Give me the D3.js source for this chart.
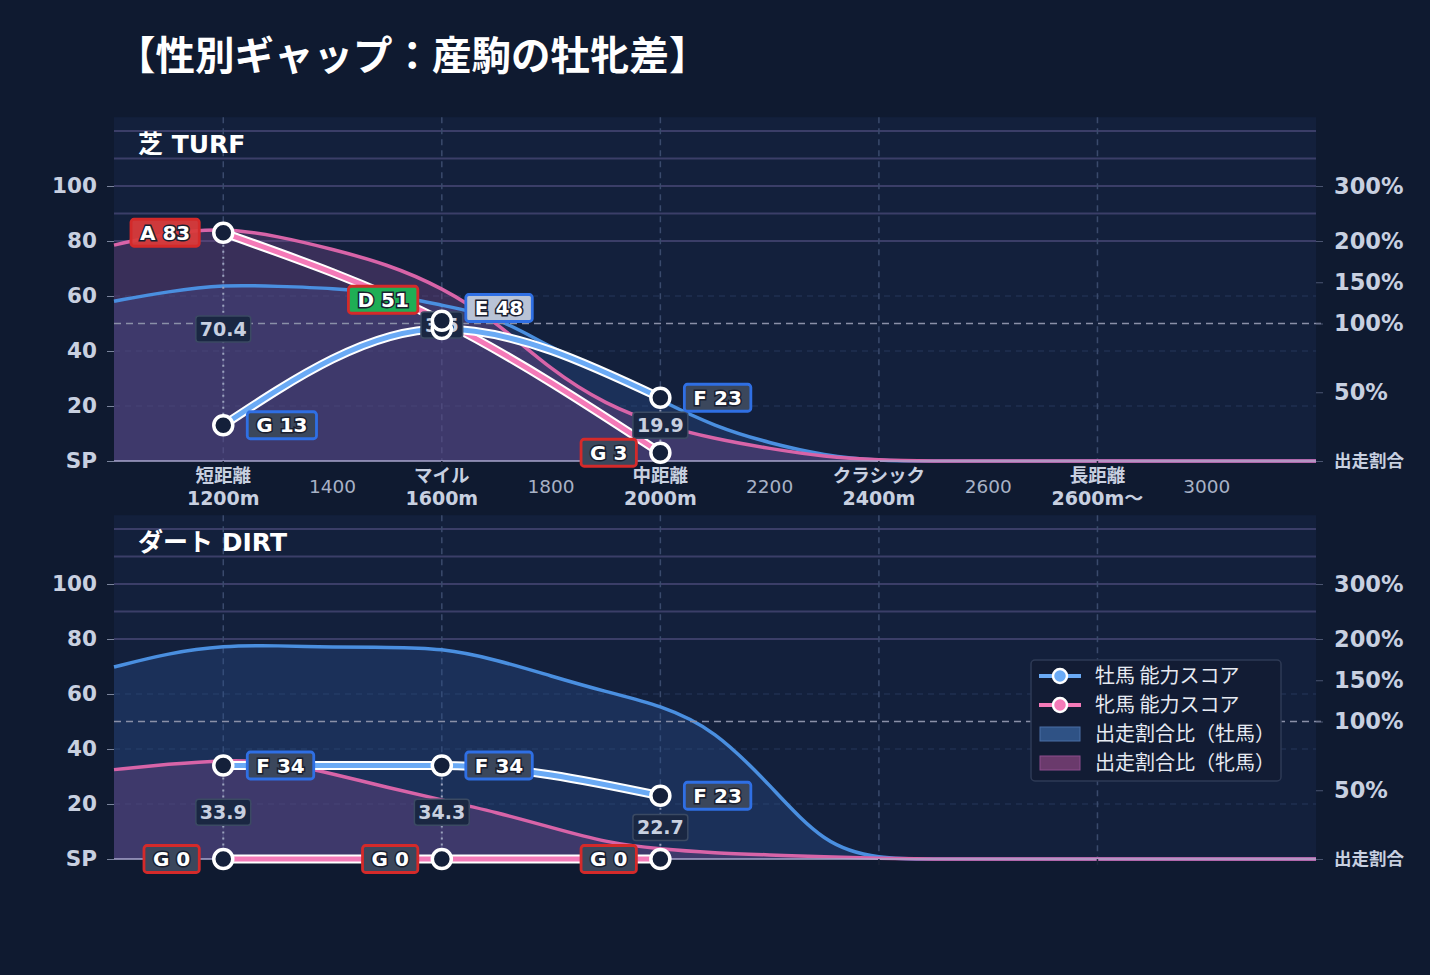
<!DOCTYPE html>
<html>
<head>
<meta charset="utf-8">
<script src="https://cdn.jsdelivr.net/npm/d3@7"></script>
<style>
  body { margin: 0; background: #0f1a30; }
  svg text { font-family: "DejaVu Sans", "Noto Sans CJK JP", sans-serif; }
</style>
</head>
<body>
<svg id="chart" width="1430" height="975"></svg>
<script>
// ---- data ----
// distance grid for the share curves (m)
const distances = [1000, 1100, 1200, 1300, 1400, 1500, 1600, 1700, 1800, 1900, 2000, 2100,
                   2200, 2300, 2400, 2500, 2600, 2700, 2800, 2900, 3000, 3100, 3200];
// 出走割合比 (%)
const turfMaleShare   = [127, 139, 147, 145, 143, 136, 122, 109, 82, 65, 44, 25,
                         13, 4, 0, 0, 0, 0, 0, 0, 0, 0, 0];
const turfFemaleShare = [195, 215, 224, 209, 190, 172, 144, 102, 66, 41, 26, 16,
                         9, 3, 0.5, 0, 0, 0, 0, 0, 0, 0, 0];
const dirtMaleShare   = [166, 183, 192, 192, 190, 190, 189, 175, 155, 136, 120, 94,
                         54, 10, 0, 0, 0, 0, 0, 0, 0, 0, 0];
const dirtFemaleShare = [65, 69, 72, 71, 62, 52, 43, 34, 23, 12, 7, 4.4,
                         3, 1.5, 0.5, 0, 0, 0, 0, 0, 0, 0, 0];

// 能力スコア at the three distance classes
const scoreDistances = [1200, 1600, 2000];
const turfMaleScore   = [13, 48, 23];
const turfMaleGrade   = ["G", "E", "F"];
const turfFemaleScore = [83, 51, 3];
const turfFemaleGrade = ["A", "D", "G"];
const turfGap         = ["70.4", "3.5", "19.9"];
const dirtMaleScore   = [34, 34, 23];
const dirtMaleGrade   = ["F", "F", "F"];
const dirtFemaleScore = [0, 0, 0];
const dirtFemaleGrade = ["G", "G", "G"];
const dirtGap         = ["33.9", "34.3", "22.7"];

// axes
const categoryTicks  = [1200, 1600, 2000, 2400, 2800];
const categoryNames  = ["短距離", "マイル", "中距離", "クラシック", "長距離"];
const categoryMeters = ["1200m", "1600m", "2000m", "2400m", "2600m〜"];
const numericTicks   = [1400, 1800, 2200, 2600, 3000];
const leftTicks      = [0, 20, 40, 60, 80, 100];
const leftLabels     = ["SP", "20", "40", "60", "80", "100"];
const rightTicks     = [0, 50, 100, 150, 200, 300];
const rightLabels    = ["出走割合", "50%", "100%", "150%", "200%", "300%"];
const purpleGrid     = [200, 250, 300, 350, 400];

// ---- styling ----
const C = {
  bg: "#0f1a30", panel: "#13203c", text: "#c8d0e0",
  male: "#4a8fe0", female: "#d864a8",
  maleScore: "#6aaaf5", femaleScore: "#f47ab8",
  maleBorder: "#2f6fe4", femaleBorder: "#d42a2a"
};
const gradeFill = { A: "#d93b3b", B: "#e07a2a", C: "#d4b02a", D: "#1fae55", E: "#b9c3d6", F: "#3b475c", G: "#3b475c" };

const svg = d3.select("#chart");
svg.append("rect").attr("width", 1430).attr("height", 975).attr("fill", C.bg);

// title
svg.append("text")
  .attr("x", 116).attr("y", 70)
  .style("font-family", "'Noto Sans CJK JP', sans-serif")
  .style("font-size", "39.5px").style("font-weight", "bold")
  .attr("fill", "#ffffff")
  .text("【性別ギャップ：産駒の牡牝差】");

const x = d3.scaleLinear().domain([1000, 3200]).range([114, 1316]);
// share ratio (%) -> left-axis units
const shareToValue = d3.scaleLinear().domain([0, 100, 200, 300, 400]).range([0, 50, 80, 100, 120]);

function drawPanel(cfg) {
  const base = cfg.base;
  const y = d3.scaleLinear().domain([0, 100]).range([base, base - 275]);
  const yS = v => y(shareToValue(v));
  const top = y(125);
  const g = svg.append("g");

  g.append("rect")
    .attr("x", x(1000)).attr("y", top)
    .attr("width", x(3200) - x(1000)).attr("height", base - top)
    .attr("fill", C.panel);

  // horizontal grid
  g.selectAll(".hgrid").data([20, 40, 60, 80, 100]).enter().append("line")
    .attr("x1", x(1000)).attr("x2", x(3200))
    .attr("y1", d => y(d)).attr("y2", d => y(d))
    .attr("stroke", "#27375a").attr("stroke-width", 1.2).attr("stroke-dasharray", "6,5");
  g.selectAll(".pgrid").data(purpleGrid).enter().append("line")
    .attr("x1", x(1000)).attr("x2", x(3200))
    .attr("y1", d => yS(d)).attr("y2", d => yS(d))
    .attr("stroke", "#3b3e68").attr("stroke-width", 2);

  // vertical grid at distance classes
  g.selectAll(".vgrid").data(categoryTicks).enter().append("line")
    .attr("x1", d => x(d)).attr("x2", d => x(d))
    .attr("y1", top).attr("y2", base)
    .attr("stroke", "#3a4a6c").attr("stroke-width", 1.5).attr("stroke-dasharray", "6,5");

  // share areas
  const shareData = s => distances.map((d, i) => [d, s[i]]);
  const area = d3.area().x(d => x(d[0])).y0(base).y1(d => yS(d[1])).curve(d3.curveBasis);
  const line = d3.line().x(d => x(d[0])).y(d => yS(d[1])).curve(d3.curveBasis);

  g.append("path").datum(shareData(cfg.maleShare)).attr("d", area)
    .attr("fill", "#2a5090").attr("fill-opacity", 0.35);
  g.append("path").datum(shareData(cfg.femaleShare)).attr("d", area)
    .attr("fill", "#7a4a8a").attr("fill-opacity", 0.38);
  g.append("path").datum(shareData(cfg.maleShare)).attr("d", line)
    .attr("fill", "none").attr("stroke", C.male).attr("stroke-width", 3.5);
  g.append("path").datum(shareData(cfg.femaleShare)).attr("d", line)
    .attr("fill", "none").attr("stroke", C.female).attr("stroke-width", 3.5);

  // 100% reference
  g.append("line")
    .attr("x1", x(1000)).attr("x2", 1323)
    .attr("y1", yS(100)).attr("y2", yS(100))
    .attr("stroke", "#8a90a8").attr("stroke-width", 1.6).attr("stroke-dasharray", "7,5");

  // baseline
  g.append("line")
    .attr("x1", x(1000)).attr("x2", x(3200)).attr("y1", base).attr("y2", base)
    .attr("stroke", "#a8a6cc").attr("stroke-width", 1.5);

  // left axis
  const leftAxis = d3.axisLeft(y).tickValues(leftTicks).tickSize(7).tickPadding(10)
    .tickFormat((d, i) => leftLabels[i]);
  const la = g.append("g").attr("transform", `translate(${x(1000)},0)`).call(leftAxis);
  la.select(".domain").remove();
  la.selectAll("line").attr("stroke", "#7a849c");
  la.selectAll("text").attr("fill", C.text).style("font-size", "21.5px").style("font-weight", "bold");

  // right axis (share ratio)
  const rScale = d3.scaleLinear().domain(shareToValue.domain()).range(shareToValue.range().map(v => y(v)));
  const rightAxis = d3.axisRight(rScale).tickValues(rightTicks).tickSize(7).tickPadding(11)
    .tickFormat((d, i) => rightLabels[i]);
  const ra = g.append("g").attr("transform", `translate(${x(3200)},0)`).call(rightAxis);
  ra.select(".domain").remove();
  ra.selectAll("line").attr("stroke", "#4a5470");
  ra.selectAll("text").attr("fill", C.text).style("font-weight", "bold")
    .style("font-size", d => d === 0 ? "17.5px" : "22.5px");

  // x ticks
  g.selectAll(".xtick").data(categoryTicks).enter().append("line")
    .attr("x1", d => x(d)).attr("x2", d => x(d))
    .attr("y1", base).attr("y2", base + 6)
    .attr("stroke", "#1a2238").attr("stroke-width", 1.5);

  if (cfg.xLabels) {
    const xl = g.selectAll(".xcat").data(categoryTicks).enter().append("g");
    xl.append("text")
      .attr("x", d => x(d)).attr("y", base + 21).attr("text-anchor", "middle")
      .style("font-family", "'Noto Sans CJK JP', sans-serif")
      .style("font-size", "18.5px").style("font-weight", "bold").attr("fill", C.text)
      .text((d, i) => categoryNames[i]);
    xl.append("text")
      .attr("x", d => x(d)).attr("y", base + 44).attr("text-anchor", "middle")
      .style("font-size", "19px").style("font-weight", "bold").attr("fill", C.text)
      .text((d, i) => categoryMeters[i]);
    g.selectAll(".xnum").data(numericTicks).enter().append("text")
      .attr("x", d => x(d)).attr("y", base + 32).attr("text-anchor", "middle")
      .style("font-size", "18.5px").attr("fill", "#a8b2c6")
      .text(d => d);
  }

  // panel title
  g.append("text")
    .attr("x", 138).attr("y", top + 36)
    .style("font-size", "25px").style("font-weight", "bold").attr("fill", "#ffffff")
    .text(cfg.title);

  // ability score lines
  const maleData = scoreDistances.map((d, i) => [d, cfg.maleScore[i]]);
  const femaleData = scoreDistances.map((d, i) => [d, cfg.femaleScore[i]]);
  const sLine = d3.line().x(d => x(d[0])).y(d => y(d[1])).curve(d3.curveMonotoneX);

  // dotted gap lines
  g.selectAll(".gapline").data(scoreDistances).enter().append("line")
    .attr("x1", d => x(d)).attr("x2", d => x(d))
    .attr("y1", (d, i) => y(Math.max(cfg.maleScore[i], cfg.femaleScore[i])))
    .attr("y2", (d, i) => y(Math.min(cfg.maleScore[i], cfg.femaleScore[i])))
    .attr("stroke", "#9aa2bc").attr("stroke-width", 2).attr("stroke-dasharray", "2,4");

  [[femaleData, C.femaleScore], [maleData, C.maleScore]].forEach(([data, col]) => {
    g.append("path").datum(data).attr("d", sLine)
      .attr("fill", "none").attr("stroke", "#ffffff").attr("stroke-width", 9);
    g.append("path").datum(data).attr("d", sLine)
      .attr("fill", "none").attr("stroke", col).attr("stroke-width", 5);
  });

  // gap value labels at the midpoint
  scoreDistances.forEach((d, i) => {
    const cy = (y(cfg.maleScore[i]) + y(cfg.femaleScore[i])) / 2;
    const lg = g.append("g");
    const t = lg.append("text")
      .attr("x", x(d)).attr("y", cy + 7).attr("text-anchor", "middle")
      .style("font-size", "19px").style("font-weight", "bold").attr("fill", C.text)
      .text(cfg.gap[i]);
    const w = t.node().getComputedTextLength() + 8;
    lg.insert("rect", "text")
      .attr("x", x(d) - w / 2).attr("y", cy - 13).attr("width", w).attr("height", 26).attr("rx", 3)
      .attr("fill", "#1a2742").attr("stroke", "#3b4a63").attr("stroke-width", 1.5);
  });

  // markers
  [maleData, femaleData].forEach(data => {
    g.selectAll(null).data(data).enter().append("circle")
      .attr("cx", d => x(d[0])).attr("cy", d => y(d[1])).attr("r", 9.5)
      .attr("fill", "#14203a").attr("stroke", "#ffffff").attr("stroke-width", 3.5);
  });

  // grade labels
  function gradeLabel(px, py, grade, score, border, side) {
    const lg = g.append("g");
    const t = lg.append("text")
      .attr("y", py + 7)
      .style("font-size", "20px").style("font-weight", "bold")
      .attr("fill", "#ffffff").attr("stroke", "#1a2030").attr("stroke-width", 3)
      .style("paint-order", "stroke")
      .text(grade + " " + score);
    const w = t.node().getComputedTextLength() + 18;
    const bx = side > 0 ? px + 24 : px - 24 - w;
    t.attr("x", bx + w / 2).attr("text-anchor", "middle");
    lg.insert("rect", "text")
      .attr("x", bx).attr("y", py - 13.5).attr("width", w).attr("height", 27).attr("rx", 3)
      .attr("fill", gradeFill[grade]).attr("fill-opacity", grade === "A" ? 0.95 : 1)
      .attr("stroke", border).attr("stroke-width", 2.8);
  }
  scoreDistances.forEach((d, i) => {
    const pm = y(cfg.maleScore[i]), pf = y(cfg.femaleScore[i]);
    const shift = Math.abs(pm - pf) < 28 ? -21 : 0;
    gradeLabel(x(d), pf + shift, cfg.femaleGrade[i], cfg.femaleScore[i], C.femaleBorder, -1);
    gradeLabel(x(d), pm + shift, cfg.maleGrade[i], cfg.maleScore[i], C.maleBorder, 1);
  });
}

drawPanel({
  base: 461, title: "芝 TURF", xLabels: true,
  maleShare: turfMaleShare, femaleShare: turfFemaleShare,
  maleScore: turfMaleScore, maleGrade: turfMaleGrade,
  femaleScore: turfFemaleScore, femaleGrade: turfFemaleGrade, gap: turfGap
});
drawPanel({
  base: 859, title: "ダート DIRT", xLabels: false,
  maleShare: dirtMaleShare, femaleShare: dirtFemaleShare,
  maleScore: dirtMaleScore, maleGrade: dirtMaleGrade,
  femaleScore: dirtFemaleScore, femaleGrade: dirtFemaleGrade, gap: dirtGap
});

// legend
const legendItems = [
  { label: "牡馬 能力スコア", type: "line", color: C.maleScore },
  { label: "牝馬 能力スコア", type: "line", color: C.femaleScore },
  { label: "出走割合比（牡馬）", type: "box", color: "#2f5285", border: "#4a6fa5" },
  { label: "出走割合比（牝馬）", type: "box", color: "#6a3a6c", border: "#8c4d8c" }
];
const lg = svg.append("g").attr("transform", "translate(1031,660)");
lg.append("rect").attr("width", 250).attr("height", 121).attr("rx", 4)
  .attr("fill", "#121c34").attr("stroke", "#2e3a55").attr("stroke-width", 1.5);
legendItems.forEach((it, i) => {
  const cy = 16 + i * 29;
  if (it.type === "line") {
    lg.append("line").attr("x1", 8).attr("x2", 50).attr("y1", cy).attr("y2", cy)
      .attr("stroke", it.color).attr("stroke-width", 4);
    lg.append("circle").attr("cx", 29).attr("cy", cy).attr("r", 7)
      .attr("fill", it.color).attr("stroke", "#ffffff").attr("stroke-width", 2.5);
  } else {
    lg.append("rect").attr("x", 9).attr("y", cy - 7).attr("width", 40).attr("height", 14)
      .attr("fill", it.color).attr("stroke", it.border).attr("stroke-width", 1);
  }
  lg.append("text").attr("x", 64).attr("y", cy + 7)
    .style("font-family", "'Noto Sans CJK JP', sans-serif")
    .style("font-size", "20px").attr("fill", "#e6eaf2")
    .text(it.label);
});
</script>
</body>
</html>
